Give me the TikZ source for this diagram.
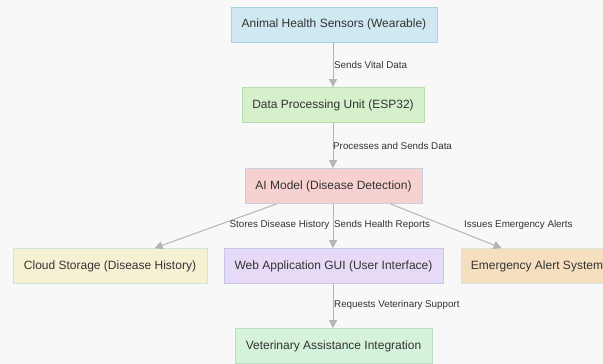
\documentclass[tikz,border=0pt]{standalone}
\usepackage{fontspec}
\setmainfont{Liberation Sans}
\usetikzlibrary{arrows.meta}

\definecolor{bg}{HTML}{F8F8F8}
\definecolor{txt}{HTML}{333333}
\definecolor{edge}{HTML}{B4B4B4}
\definecolor{blueF}{HTML}{CFE8F2}\definecolor{blueD}{HTML}{A9D3E3}
\definecolor{greenF}{HTML}{D6F0CB}\definecolor{greenD}{HTML}{B9DDAE}
\definecolor{pinkF}{HTML}{F6D1CF}\definecolor{pinkD}{HTML}{C9CEDF}
\definecolor{yellowF}{HTML}{F7F1D4}\definecolor{yellowD}{HTML}{CDE5DE}
\definecolor{purpleF}{HTML}{E6DAF6}\definecolor{purpleD}{HTML}{C6C6EA}
\definecolor{orangeF}{HTML}{F5DFBF}\definecolor{orangeD}{HTML}{D6E5DC}
\definecolor{mintF}{HTML}{D4F3DA}\definecolor{mintD}{HTML}{B8E2C5}

\tikzset{
  box/.style={draw, line width=0.8pt, inner sep=0pt, minimum height=35pt,
    text=txt, font=\fontsize{12}{14}\selectfont},
  lbl/.style={inner sep=0pt, text=txt, font=\fontsize{9.8}{12}\selectfont},
  flow/.style={draw=edge, line width=1pt,
    -{Triangle[length=8pt,width=8pt,fill=edge]}}
}

\begin{document}
\begin{tikzpicture}[x=1pt,y=-1pt]
  \useasboundingbox (0,0) rectangle (603,364);
  \fill[bg] (0,0) rectangle (603,364);
  \clip (0,0) rectangle (603,364);

  % components
  \node[box, fill=blueF, draw=blueD, minimum width=206pt] (sens) at (334,24.5) {Animal Health Sensors (Wearable)};
  \node[box, fill=greenF, draw=greenD, minimum width=182pt] (esp) at (333,105) {Data Processing Unit (ESP32)};
  \node[box, fill=pinkF, draw=pinkD, minimum width=177pt] (ai) at (333.5,186) {AI Model (Disease Detection)};
  \node[box, fill=yellowF, draw=yellowD, minimum width=194pt] (cloud) at (110,266) {Cloud Storage (Disease History)};
  \node[box, fill=purpleF, draw=purpleD, minimum width=219pt] (gui) at (333.5,266) {Web Application GUI (User Interface)};
  \node[box, fill=orangeF, draw=orangeD, minimum width=152pt] (alert) at (537,266) {Emergency Alert System};
  \node[box, fill=mintF, draw=mintD, minimum width=197pt] (vet) at (333.5,346) {Veterinary Assistance Integration};

  % data flow
  \draw[flow] (sens.south -| 333,0) -- (esp.north -| 333,0);
  \draw[flow] (esp.south -| 333,0) -- (ai.north -| 333,0);
  \draw[flow] ([xshift=32pt]ai.south west) -- ([xshift=142pt]cloud.north west);
  \draw[flow] (ai.south -| 333,0) -- (gui.north -| 333,0);
  \draw[flow] ([xshift=-32pt]ai.south east) -- ([xshift=41pt]alert.north west);
  \draw[flow] (gui.south -| 333,0) -- (vet.north -| 333,0);

  % edge labels
  \node[lbl, anchor=west] (l1) at (334,65) {Sends Vital Data};
  \node[lbl, anchor=west] (l2) at (333,146) {Processes and Sends Data};
  \node[lbl, anchor=east] (l3) at (329.5,225) {Stores Disease History};
  \node[lbl, anchor=west] (l4) at (334,225) {Sends Health Reports};
  \node[lbl, anchor=west] (l5) at (464,225) {Issues Emergency Alerts};
  \node[lbl, anchor=west] (l6) at (334,305) {Requests Veterinary Support};
\end{tikzpicture}
\end{document}
